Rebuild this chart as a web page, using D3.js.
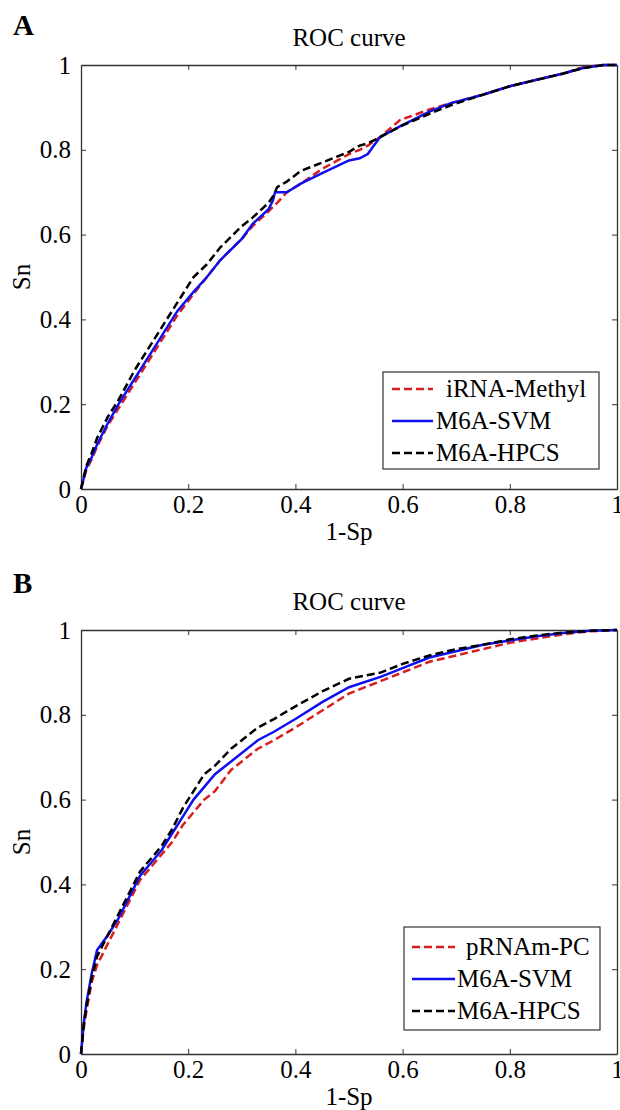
<!DOCTYPE html>
<html><head><meta charset="utf-8">
<script src="https://cdn.jsdelivr.net/npm/d3@7"></script>
<style>body{margin:0;background:#fff}svg{display:block}text{font-family:"Liberation Serif","Times New Roman",serif;fill:#000}</style>
</head><body>
<svg id="c" width="620" height="1110"></svg>
<script>
// ---- data ----
const ticks = [0, 0.2, 0.4, 0.6, 0.8, 1];
const tickLabels = ["0", "0.2", "0.4", "0.6", "0.8", "1"];

const xA = [0, 0.01, 0.02, 0.03, 0.05, 0.07, 0.1, 0.13, 0.15, 0.18, 0.21, 0.235, 0.26, 0.3, 0.32, 0.35, 0.358, 0.362, 0.366, 0.384, 0.41, 0.45, 0.5, 0.52, 0.535, 0.558, 0.595, 0.65, 0.69, 0.75, 0.8, 0.85, 0.9, 0.937, 0.975, 1];
const iRNAMethylA = [0, 0.045, 0.07, 0.10, 0.15, 0.19, 0.25, 0.31, 0.35, 0.41, 0.46, 0.50, 0.54, 0.59, 0.62, 0.655, 0.665, 0.67, 0.675, 0.70, 0.72, 0.755, 0.79, 0.80, 0.81, 0.83, 0.87, 0.895, 0.91, 0.93, 0.95, 0.965, 0.98, 0.995, 1, 1];
const svmA = [0, 0.05, 0.075, 0.105, 0.155, 0.20, 0.26, 0.32, 0.36, 0.42, 0.465, 0.50, 0.54, 0.59, 0.625, 0.66, 0.68, 0.70, 0.70, 0.70, 0.72, 0.745, 0.775, 0.78, 0.79, 0.83, 0.855, 0.89, 0.91, 0.93, 0.95, 0.965, 0.98, 0.993, 1, 1];
const hpcsA = [0, 0.055, 0.085, 0.12, 0.17, 0.21, 0.28, 0.34, 0.38, 0.44, 0.50, 0.53, 0.57, 0.62, 0.64, 0.675, 0.69, 0.70, 0.712, 0.725, 0.75, 0.77, 0.795, 0.81, 0.815, 0.83, 0.855, 0.885, 0.905, 0.93, 0.95, 0.965, 0.98, 0.993, 1, 1];

const xB = [0, 0.005, 0.01, 0.02, 0.03, 0.05, 0.07, 0.09, 0.11, 0.13, 0.15, 0.17, 0.19, 0.21, 0.23, 0.25, 0.28, 0.30, 0.33, 0.36, 0.40, 0.45, 0.50, 0.56, 0.60, 0.65, 0.70, 0.75, 0.80, 0.85, 0.90, 0.95, 1];
const pRNAmPCB = [0, 0.06, 0.10, 0.17, 0.21, 0.26, 0.31, 0.36, 0.41, 0.44, 0.47, 0.50, 0.54, 0.57, 0.60, 0.62, 0.67, 0.69, 0.72, 0.74, 0.77, 0.81, 0.85, 0.88, 0.90, 0.925, 0.94, 0.955, 0.97, 0.98, 0.99, 0.997, 1];
const svmB = [0, 0.07, 0.12, 0.19, 0.245, 0.28, 0.32, 0.37, 0.42, 0.45, 0.48, 0.52, 0.56, 0.60, 0.63, 0.66, 0.69, 0.71, 0.74, 0.76, 0.79, 0.83, 0.865, 0.89, 0.91, 0.935, 0.95, 0.965, 0.975, 0.985, 0.993, 0.998, 1];
const hpcsB = [0, 0.07, 0.11, 0.18, 0.23, 0.28, 0.33, 0.38, 0.43, 0.46, 0.49, 0.53, 0.58, 0.62, 0.66, 0.68, 0.72, 0.74, 0.77, 0.79, 0.82, 0.855, 0.885, 0.90, 0.92, 0.94, 0.955, 0.965, 0.978, 0.987, 0.994, 0.998, 1];

const namesA = ["iRNA-Methyl", "M6A-SVM", "M6A-HPCS"];
const namesB = ["pRNAm-PC", "M6A-SVM", "M6A-HPCS"];
const colors = ["#d81e1e", "#1010ee", "#000000"];
const dashes = ["8,4", null, "8,4"];

// ---- drawing ----
const svg = d3.select("#c");
const L = 81, R = 617;
const FS = 25;

function panel(letter, letterY, titleY, top, bottom, xs, series, names, lb) {
  const g = svg.append("g");
  const x = d3.scaleLinear().domain([0, 1]).range([L, R]);
  const y = d3.scaleLinear().domain([0, 1]).range([bottom, top]);

  g.append("text").attr("x", 13).attr("y", letterY).attr("font-size", 29).attr("font-weight", "bold").text(letter);
  g.append("text").attr("x", (L + R) / 2).attr("y", titleY).attr("text-anchor", "middle").attr("font-size", FS).text("ROC curve");

  const fmt = (d) => tickLabels[ticks.indexOf(d)];
  const ax = (axis) => axis.tickValues(ticks).tickFormat(fmt).tickSizeInner(-5).tickSizeOuter(0).tickPadding(9);
  const gx = g.append("g").attr("transform", `translate(0,${bottom})`).call(ax(d3.axisBottom(x)));
  const gy = g.append("g").attr("transform", `translate(${L},0)`).call(ax(d3.axisLeft(y)));
  g.append("g").attr("transform", `translate(0,${top})`).call(d3.axisTop(x).tickValues(ticks).tickFormat("").tickSizeInner(-5).tickSizeOuter(0));
  g.append("g").attr("transform", `translate(${R},0)`).call(d3.axisRight(y).tickValues(ticks).tickFormat("").tickSizeInner(-5).tickSizeOuter(0));
  g.selectAll(".domain").attr("stroke", "#333").attr("stroke-width", 1.3);
  g.selectAll(".tick line").attr("stroke", "#333");
  g.selectAll(".tick text").attr("font-size", FS).attr("font-family", "Liberation Serif, serif").attr("fill", "#000");
  gx.selectAll(".tick text").attr("dy", "0.6em");
  gy.selectAll(".tick text").attr("dx", "-1");

  g.append("text").attr("x", (L + R) / 2).attr("y", bottom + 51).attr("text-anchor", "middle").attr("font-size", FS).text("1-Sp");
  g.append("text").attr("transform", `translate(30,${(top + bottom) / 2}) rotate(-90)`).attr("text-anchor", "middle").attr("font-size", FS).text("Sn");

  const line = d3.line().x((d) => x(d[0])).y((d) => y(d[1]));
  series.forEach((s, i) => {
    g.append("path").datum(xs.map((v, j) => [v, s[j]]))
      .attr("d", line).attr("fill", "none").attr("stroke", colors[i]).attr("stroke-width", 2.5)
      .attr("stroke-dasharray", dashes[i]);
  });

  g.append("rect").attr("x", lb.x).attr("y", lb.y).attr("width", lb.w).attr("height", lb.h)
    .attr("fill", "#fff").attr("stroke", "#333").attr("stroke-width", 1.2);
  names.forEach((n, i) => {
    const cy = lb.y + lb.first + i * lb.step;
    g.append("line").attr("x1", lb.x + lb.l1).attr("x2", lb.x + lb.l2).attr("y1", cy).attr("y2", cy)
      .attr("stroke", colors[i]).attr("stroke-width", 2.5).attr("stroke-dasharray", dashes[i]);
    g.append("text").attr("x", lb.x + lb.tx[i]).attr("y", cy + 8).attr("font-size", FS).text(n);
  });
}

panel("A", 35, 46, 65, 489, xA, [iRNAMethylA, svmA, hpcsA], namesA,
  {x: 383, y: 372, w: 216, h: 97, first: 17, step: 32, l1: 9, l2: 50, tx: [63, 53, 53]});
panel("B", 593, 610, 630, 1054, xB, [pRNAmPCB, svmB, hpcsB], namesB,
  {x: 404, y: 927, w: 196, h: 103, first: 20, step: 32, l1: 8, l2: 51, tx: [62, 53, 53]});
</script>
</body></html>
